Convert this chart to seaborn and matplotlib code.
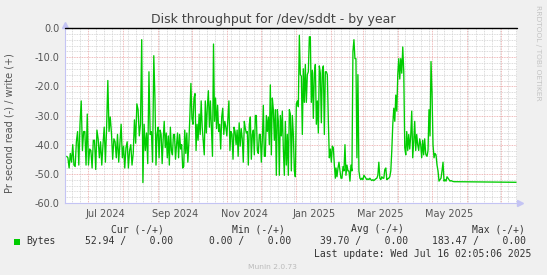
import numpy as np
import pandas as pd
import matplotlib
matplotlib.use("Agg")
import matplotlib.pyplot as plt
import seaborn as sns
from matplotlib.patches import Rectangle

# ---------------- data ----------------
title = "Disk throughput for /dev/sddt - by year"
ylabel = "Pr second read (-) / write (+)"
series_name = "Bytes"

# each segment: start, end, evenly spaced readings (read side, shown negative)
seg1_range = ("2024-06-12 04:00", "2024-08-29 05:00")
seg1 = [-44, -44.5, -48, -43, -46, -40, -47, -47.5, -39, -35.5,
        -47, -33, -25, -42, -35.5, -35.5, -47, -29.5, -47, -41.5,
        -42, -48, -38.5, -38.5, -48.5, -35, -38, -44.5, -39, -47,
        -40, -34, -46, -34, -18, -35.5, -30.5, -36, -45, -38,
        -39, -44.5, -36.5, -46, -39.5, -33, -44.5, -40.5, -48, -41,
        -39, -48, -42, -40, -47, -43, -31.5, -39.5, -26, -28,
        -37, -33, -4, -53, -33, -42, -36, -46.5, -15, -36.5,
        -35.5, -46, -9.5, -25]

seg2_range = ("2024-08-30 02:00", "2024-11-17 01:00")
seg2 = [-47, -36.5, -34, -44.5, -35, -36.5, -46.5, -38, -32, -41,
        -36, -44.5, -37, -47, -34, -42, -43.5, -36.5, -36.5, -45,
        -40, -36, -44.5, -36.5, -41.5, -40, -48, -47.5, -35, -43,
        -36, -46, -39.5, -30, -19, -31, -33, -24, -22.5, -42,
        -33, -38.5, -29.5, -36.5, -25, -34, -39, -43.5, -25, -36,
        -27, -21.5, -34, -25, -34.5, -44, -5.5, -32, -24, -34.5,
        -26.5, -35.5, -33, -41.5, -30.5, -27.5, -36.5, -32, -34, -37,
        -31, -25, -42, -35.5, -36.5, -45, -34, -35.5, -40, -35,
        -44, -32.5, -40.5, -34.5, -38, -46, -32, -34.5]

seg3_range = ("2024-11-17 22:00", "2025-02-04 14:00")
seg3 = [-36, -35.5, -47, -33, -30.5, -45, -36.5, -35, -43.5, -30,
        -30, -42, -43, -36.5, -36.5, -46, -38.5, -26.5, -44, -44,
        -30, -35.5, -30.5, -40, -19.5, -43.5, -24, -28, -38.5, -28,
        -50.5, -28, -32, -50.5, -30, -37, -28.5, -41.5, -50.5, -32,
        -47, -36.5, -50.5, -28, -29.5, -49, -30, -36.5, -49, -51,
        -26, -25, -27, -2.5, -16, -16.5, -36.5, -14, -25.5, -12.5,
        -25.5, -16, -15, -3, -3, -25.5, -14.5, -31, -15.5, -12.5,
        -33, -25, -36, -13, -15.5, -32.5, -14.5, -13, -36.5, -15,
        -15, -16, -32, -44.5, -41.5, -46, -40.5, -41, -47, -51.5]

seg4_range = ("2025-02-05 04:00", "2025-04-25 10:00")
seg4 = [-48, -51, -48, -46, -49, -51.5, -51.5, -47.5, -49, -40,
        -50.5, -47, -49, -49, -52.5, -47, -49, -8, -4, -10.5,
        -10.5, -44.5, -16, -49, -51.5, -52, -51.5, -52, -50.5, -51,
        -51.5, -52, -51.7, -52, -51.5, -52, -52.3, -52, -52.3, -52,
        -51.7, -51.5, -50.5, -46, -51.5, -52, -51, -51.5, -51.5, -48.5,
        -48, -52, -51.7, -51.5, -51, -49, -42, -33, -27.5, -32,
        -23, -28.5, -16, -10.5, -17.5, -10.5, -15.5, -6.5, -15, -41,
        -43.5, -35.5, -42, -36.5, -41.5, -37, -28.5, -44.5, -39, -32,
        -42, -36.5, -40, -42, -38, -40, -44.5, -38.5, -43.5, -38, -43]

seg5_range = ("2025-04-25 17:00", "2025-05-23 03:00")
seg5 = [-43.5, -44, -42, -28, -37, -11.5, -22, -40, -44.5, -43,
        -43.5, -47, -49, -52.5, -52, -51.5, -49, -46, -52.5, -52,
        -52.5, -51, -51.5, -52, -52.5, -52.3, -52.5, -52.6, -52.7, -52.7,
        -52.7, -52.7]

tail_time = ["2025-07-14 07:00"]
tail_vals = [-52.9]

legend_cols = ["Cur (-/+)", "Min (-/+)", "Avg (-/+)", "Max (-/+)"]
legend_vals = ["52.94 /    0.00", "0.00 /    0.00", "39.70 /    0.00", "183.47 /    0.00"]
last_update = "Last update: Wed Jul 16 02:05:06 2025"
munin_ver = "Munin 2.0.73"
side_text = "RRDTOOL / TOBI OETIKER"

yticks = [0, -10, -20, -30, -40, -50, -60]
ytick_labels = ["0.0", "-10.0", "-20.0", "-30.0", "-40.0", "-50.0", "-60.0"]
xtick_dates = ["2024-07-16 12:00", "2024-09-16 00:00", "2024-11-16 00:00",
               "2025-01-16 12:00", "2025-03-16 12:00", "2025-05-16 12:00"]
xtick_labels = ["Jul 2024", "Sep 2024", "Nov 2024", "Jan 2025", "Mar 2025", "May 2025"]
xlim = ("2024-06-10 16:00", "2025-07-15 03:00")

# ---------------- build frame ----------------
parts = []
for (s, e), vals in [(seg1_range, seg1), (seg2_range, seg2), (seg3_range, seg3),
                     (seg4_range, seg4), (seg5_range, seg5)]:
    parts.append(pd.DataFrame({"time": pd.date_range(s, e, periods=len(vals)),
                               "value": vals}))
parts.append(pd.DataFrame({"time": pd.to_datetime(tail_time), "value": tail_vals}))
df = pd.concat(parts, ignore_index=True)

# ---------------- figure ----------------
sns.set_theme(style="white")
plt.rcParams["font.family"] = ["DejaVu Sans"]

W, H = 547, 275
fig = plt.figure(figsize=(W / 100, H / 100), dpi=100, facecolor="#F0F0F0")
ax = fig.add_axes([65 / W, (H - 203) / H, 452 / W, 175 / H])
ax.set_facecolor("white")

x0, x1 = pd.Timestamp(xlim[0]), pd.Timestamp(xlim[1])
ax.set_xlim(x0, x1)
ax.set_ylim(-60, 0)

# grid
minor_c = "#CFCFCF"
major_c = "#EBA3A3"
dot = (0, (1, 1))
for yv in np.arange(-58, 0, 2):
    if yv % 10 != 0:
        ax.axhline(yv, color=minor_c, lw=0.6, ls=dot, zorder=1)
for wk in pd.date_range("2024-06-17", "2025-07-14", freq="W-MON"):
    if wk.day != 1:
        ax.axvline(wk, color=minor_c, lw=0.6, ls=dot, zorder=1)
for yv in [-10, -20, -30, -40, -50]:
    ax.axhline(yv, color=major_c, lw=0.6, ls=dot, zorder=1.5)
for m in pd.date_range("2024-07-01", "2025-07-01", freq="MS"):
    ax.axvline(m, color=major_c, lw=0.6, ls=dot, zorder=1.5)

sns.lineplot(data=df, x="time", y="value", ax=ax, color="#00CC00",
             lw=0.95, estimator=None, zorder=3)
ax.axhline(0, color="black", lw=1.0, zorder=4, clip_on=False)

# axes styling
for sp in ["top", "right"]:
    ax.spines[sp].set_visible(False)
axis_c = "#C4C4F4"
ax.spines["left"].set_color(axis_c)
ax.spines["bottom"].set_color(axis_c)
ax.spines["left"].set_linewidth(0.8)
ax.spines["bottom"].set_linewidth(0.8)
ax.plot([0], [1.02], marker="^", ms=4, color=axis_c, transform=ax.transAxes, clip_on=False)
ax.plot([1.006], [0], marker=">", ms=4, color=axis_c, transform=ax.transAxes, clip_on=False)
ax.plot([0, 0], [1.0, 1.02], color=axis_c, lw=0.8, transform=ax.transAxes, clip_on=False)
ax.plot([1.0, 1.006], [0, 0], color=axis_c, lw=0.8, transform=ax.transAxes, clip_on=False)

ax.set_yticks(yticks)
ax.set_yticklabels(ytick_labels)
ax.set_xticks(pd.to_datetime(xtick_dates))
ax.set_xticklabels(xtick_labels)
ax.tick_params(axis="both", length=0, labelsize=7, labelcolor="#555555")
ax.tick_params(axis="x", pad=4)
ax.tick_params(axis="y", pad=4)
ax.set_xlabel("")
ax.set_ylabel("")

def fx(x):
    return x / W

def fy(y):
    return 1 - y / H

fig.text(fx(273), fy(19.5), title, ha="center", va="center", fontsize=9, color="#444444")
fig.text(fx(10), fy(123), ylabel, ha="center", va="center", rotation=90,
         fontsize=7, color="#555555")
fig.text(fx(538), fy(53), side_text, ha="center", va="center", rotation=270,
         fontsize=5.4, color="#C4C4C4")

mono = "DejaVu Sans Mono"
hdr_right = [164, 285, 404, 525]
val_right = [173, 291, 408, 526]
for t, xr in zip(legend_cols, hdr_right):
    fig.text(fx(xr), fy(229), t, ha="right", va="center", fontsize=7,
             family=mono, color="#333333")
for t, xr in zip(legend_vals, val_right):
    fig.text(fx(xr), fy(241), t, ha="right", va="center", fontsize=7,
             family=mono, color="#333333")
fig.patches.append(Rectangle((fx(13.5), fy(244.5)), 6 / W, 6 / H, transform=fig.transFigure,
                             facecolor="#00CC00", edgecolor="none"))
fig.text(fx(26), fy(241), series_name, ha="left", va="center", fontsize=7,
         family=mono, color="#333333")
fig.text(fx(531), fy(254), last_update, ha="right", va="center", fontsize=7,
         family=mono, color="#333333")
fig.text(fx(272.5), fy(267), munin_ver, ha="center", va="center", fontsize=5.4,
         color="#BBBBBB")

fig.savefig("out.png", dpi=100, facecolor=fig.get_facecolor())
